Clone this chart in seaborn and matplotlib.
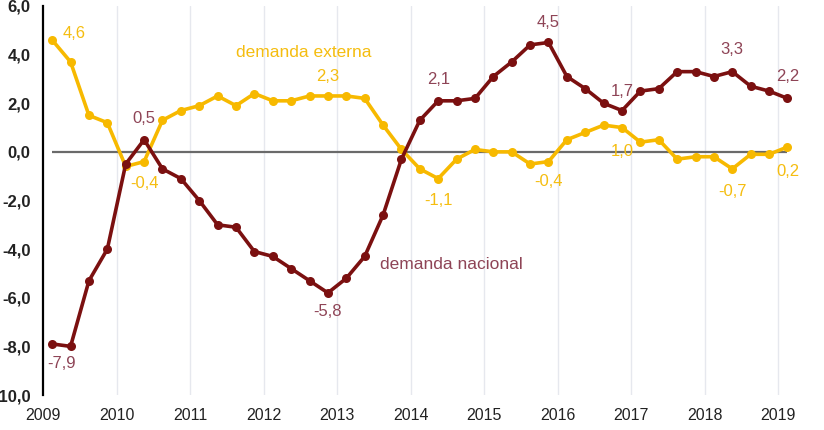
import pandas as pd
import numpy as np
import seaborn as sns
import matplotlib.pyplot as plt

# trimestres 2009T1 - 2019T1
trimestres = pd.period_range('2009Q1', '2019Q1', freq='Q')

demanda_nacional = [-7.9, -8.0, -5.3, -4.0, -0.5, 0.5, -0.7, -1.1, -2.0, -3.0, -3.1, -4.1, -4.3,
                    -4.8, -5.3, -5.8, -5.2, -4.3, -2.6, -0.3, 1.3, 2.1, 2.1, 2.2, 3.1, 3.7, 4.4,
                    4.5, 3.1, 2.6, 2.0, 1.7, 2.5, 2.6, 3.3, 3.3, 3.1, 3.3, 2.7, 2.5, 2.2]
demanda_externa = [4.6, 3.7, 1.5, 1.2, -0.6, -0.4, 1.3, 1.7, 1.9, 2.3, 1.9, 2.4, 2.1,
                   2.1, 2.3, 2.3, 2.3, 2.2, 1.1, 0.1, -0.7, -1.1, -0.3, 0.1, 0.0, 0.0, -0.5,
                   -0.4, 0.5, 0.8, 1.1, 1.0, 0.4, 0.5, -0.3, -0.2, -0.2, -0.7, -0.1, -0.1, 0.2]

# etiquetas: (indice, texto, dx, dy) en pixeles
etiquetas_nac = [(0, '-7,9', 9, -20), (5, '0,5', 0, 21), (15, '-5,8', 0, -19), (21, '2,1', 0, 21),
                 (27, '4,5', 0, 20), (31, '1,7', 0, 19), (37, '3,3', 0, 22), (40, '2,2', 0, 22)]
etiquetas_ext = [(0, '4,6', 22, 7), (5, '-0,4', 0, -22), (15, '2,3', 0, 19), (21, '-1,1', 0, -22),
                 (27, '-0,4', 0, -20), (31, '1,0', 0, -24), (37, '-0,7', 0, -23), (40, '0,2', 0, -24)]

anios = list(range(2009, 2020))
yticks = [6, 4, 2, 0, -2, -4, -6, -8, -10]

x = trimestres.year + (trimestres.quarter - 0.5) / 4
df = pd.DataFrame({
    'x': np.concatenate([x, x]),
    'valor': demanda_nacional + demanda_externa,
    'serie': ['nacional'] * len(x) + ['externa'] * len(x),
})

rojo = '#7b1010'
amarillo = '#f7b900'
rojo_txt = '#8e4456'
amarillo_txt = '#f5bd10'

sns.set_style('white')
plt.rcParams['font.family'] = ['Liberation Sans', 'DejaVu Sans']

fig = plt.figure(figsize=(8.24, 4.30), dpi=100)
ax = fig.add_axes([43 / 824, 1 - 395 / 430, (804 - 43) / 824, 389 / 430])

for a in anios[1:]:
    ax.axvline(a, color='#e6e8ee', lw=1, zorder=0)
ax.hlines(0, x[0], x[-1], color='#6a6a6a', lw=1.6, zorder=1)

sns.lineplot(data=df, x='x', y='valor', hue='serie', palette={'nacional': rojo, 'externa': amarillo},
             hue_order=['externa', 'nacional'], marker='o', markersize=6.5, markeredgewidth=0,
             lw=2.6, legend=False, ax=ax, zorder=3)

for i, t, dx, dy in etiquetas_nac:
    ax.annotate(t, (x[i], demanda_nacional[i]), xytext=(dx, dy), textcoords='offset pixels',
                ha='center', va='center', fontsize=12, color=rojo_txt)
for i, t, dx, dy in etiquetas_ext:
    ax.annotate(t, (x[i], demanda_externa[i]), xytext=(dx, dy), textcoords='offset pixels',
                ha='center', va='center', fontsize=12, color=amarillo_txt)

ax.text(2012.54, 4.08, 'demanda externa', ha='center', va='center', fontsize=12.5, color=amarillo_txt)
ax.text(2014.56, -4.65, 'demanda nacional', ha='center', va='center', fontsize=12.5, color=rojo_txt)

ax.set_xlim(2009, 2019.35)
ax.set_ylim(-10, 6)
ax.set_xticks(anios)
ax.set_xticklabels([str(a) for a in anios], fontsize=11.5, color='#222222')
ax.set_yticks(yticks)
ax.set_yticklabels([f'{v:.1f}'.replace('.', ',') for v in yticks], fontsize=12,
                   color='#222222', fontweight='bold')
ax.tick_params(axis='x', direction='inout', length=7, color='#aaaaaa', pad=6)
ax.tick_params(axis='y', direction='in', length=5, color='#aaaaaa', pad=9)
ax.set_xlabel('')
ax.set_ylabel('')
for s in ['top', 'right', 'bottom']:
    ax.spines[s].set_visible(False)
ax.spines['left'].set_color('black')
ax.spines['left'].set_linewidth(1.6)

fig.savefig('out.png', dpi=100)
